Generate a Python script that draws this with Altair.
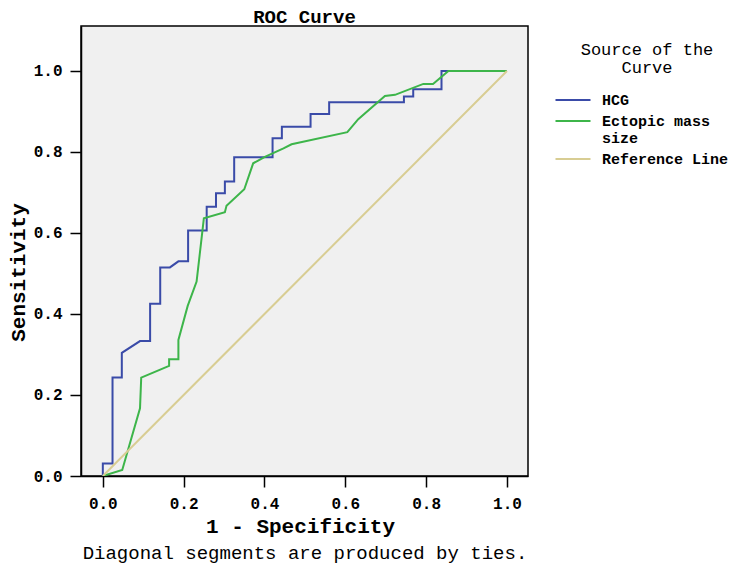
import altair as alt
import pandas as pd

# HCG ROC curve vertices (1 - specificity, sensitivity)
hcg_x = [0.0, 0.0, 0.024, 0.024, 0.047, 0.047, 0.092, 0.117, 0.117, 0.142, 0.142,
         0.166, 0.187, 0.211, 0.211, 0.257, 0.257, 0.280, 0.280, 0.302, 0.302,
         0.325, 0.325, 0.420, 0.420, 0.443, 0.443, 0.514, 0.514, 0.560, 0.560,
         0.745, 0.745, 0.768, 0.768, 0.838, 0.838, 1.0]
hcg_y = [0.0, 0.031, 0.031, 0.243, 0.243, 0.304, 0.333, 0.333, 0.425, 0.425, 0.515,
         0.515, 0.530, 0.530, 0.606, 0.606, 0.665, 0.665, 0.698, 0.698, 0.727,
         0.727, 0.787, 0.787, 0.834, 0.834, 0.862, 0.862, 0.894, 0.894, 0.923,
         0.923, 0.937, 0.937, 0.955, 0.955, 1.0, 1.0]

# Ectopic mass size ROC curve vertices
ems_x = [0.0, 0.048, 0.092, 0.095, 0.164, 0.164, 0.187, 0.187, 0.210, 0.232, 0.250,
         0.302, 0.306, 0.350, 0.372, 0.401, 0.447, 0.467, 0.605, 0.632, 0.698,
         0.723, 0.793, 0.817, 0.855, 1.0]
ems_y = [0.0, 0.015, 0.167, 0.243, 0.272, 0.288, 0.288, 0.336, 0.420, 0.480, 0.636,
         0.651, 0.667, 0.708, 0.772, 0.788, 0.809, 0.819, 0.849, 0.881, 0.938,
         0.941, 0.968, 0.968, 1.0, 1.0]

# Reference line
ref_x = [0.0, 1.0]
ref_y = [0.0, 1.0]

series_names = ["HCG", "Ectopic mass size", "Reference Line"]
series_colors = ["#3A4BA8", "#3DB54A", "#D8CD93"]
x_ticks = [0.0, 0.2, 0.4, 0.6, 0.8, 1.0]
y_ticks = [0.0, 0.2, 0.4, 0.6, 0.8, 1.0]

rows = []
for name, xs, ys in [("HCG", hcg_x, hcg_y), ("Ectopic mass size", ems_x, ems_y),
                     ("Reference Line", ref_x, ref_y)]:
    for i, (xv, yv) in enumerate(zip(xs, ys)):
        rows.append({"series": name, "x": xv, "y": yv, "i": i})
df = pd.DataFrame(rows)

FONT = "Liberation Mono"

legend = alt.Legend(
    title=["Source of the", "Curve"],
    orient="none", legendX=484, legendY=16,
    symbolType="M-2.5,0H2.5", symbolSize=196, symbolStrokeWidth=2,
    labelFont=FONT, labelFontWeight="bold", labelFontSize=15,
    labelColor="black", labelOffset=21, labelLimit=300,
    labelExpr="datum.label == 'Ectopic mass size' ? ['Ectopic mass', 'size'] : datum.label",
    titleFont=FONT, titleFontWeight="normal", titleFontSize=17, titleColor="black",
    titleAlign="center", titleAnchor="middle", titleLineHeight=18, titlePadding=15,
    rowPadding=5, padding=0,
)

lines = alt.Chart(df).mark_line(strokeWidth=2, clip=True).encode(
    x=alt.X("x:Q", scale=alt.Scale(domain=[-0.054, 1.052], nice=False, zero=False),
            axis=alt.Axis(title="1 - Specificity", values=x_ticks, format=".1f",
                          titleX=219, titleY=56, titleBaseline="alphabetic",
                          titleAlign="center")),
    y=alt.Y("y:Q", scale=alt.Scale(domain=[0, 1.111], nice=False),
            axis=alt.Axis(title="Sensitivity", values=y_ticks, format=".1f",
                          titleX=-63, titleY=246, titleAngle=-90, titleBaseline="middle",
                          titleAlign="center")),
    color=alt.Color("series:N", scale=alt.Scale(domain=series_names, range=series_colors),
                    legend=legend, sort=series_names),
    detail="series:N",
    order="i:Q",
)

foot = alt.Chart(pd.DataFrame({"t": ["Diagonal segments are produced by ties."]})).mark_text(
    font=FONT, fontSize=19, color="black", align="center", baseline="middle"
).encode(text="t:N", x=alt.value(224), y=alt.value(527))

chart = alt.layer(lines, foot).properties(
    width=447, height=450,
    title=alt.TitleParams("ROC Curve", font=FONT, fontSize=19, fontWeight="bold",
                          color="black", anchor="middle", offset=-1),
    autosize=alt.AutoSizeParams(type="none"),
    padding={"left": 73, "top": 18, "right": 200, "bottom": 90},
    background="white",
).configure_view(
    fill="#F0F0F0", stroke="black", strokeWidth=1.5
).configure_axis(
    grid=False, domainColor="black", domainWidth=1.5, tickColor="black", tickWidth=1.5,
    tickSize=11, labelFont=FONT, labelFontWeight="bold", labelFontSize=16,
    labelColor="black", labelPadding=8, titleFont=FONT, titleFontWeight="bold",
    titleFontSize=21, titleColor="black"
)

chart.save("out.html", embed_options={"renderer": "svg", "actions": False})
